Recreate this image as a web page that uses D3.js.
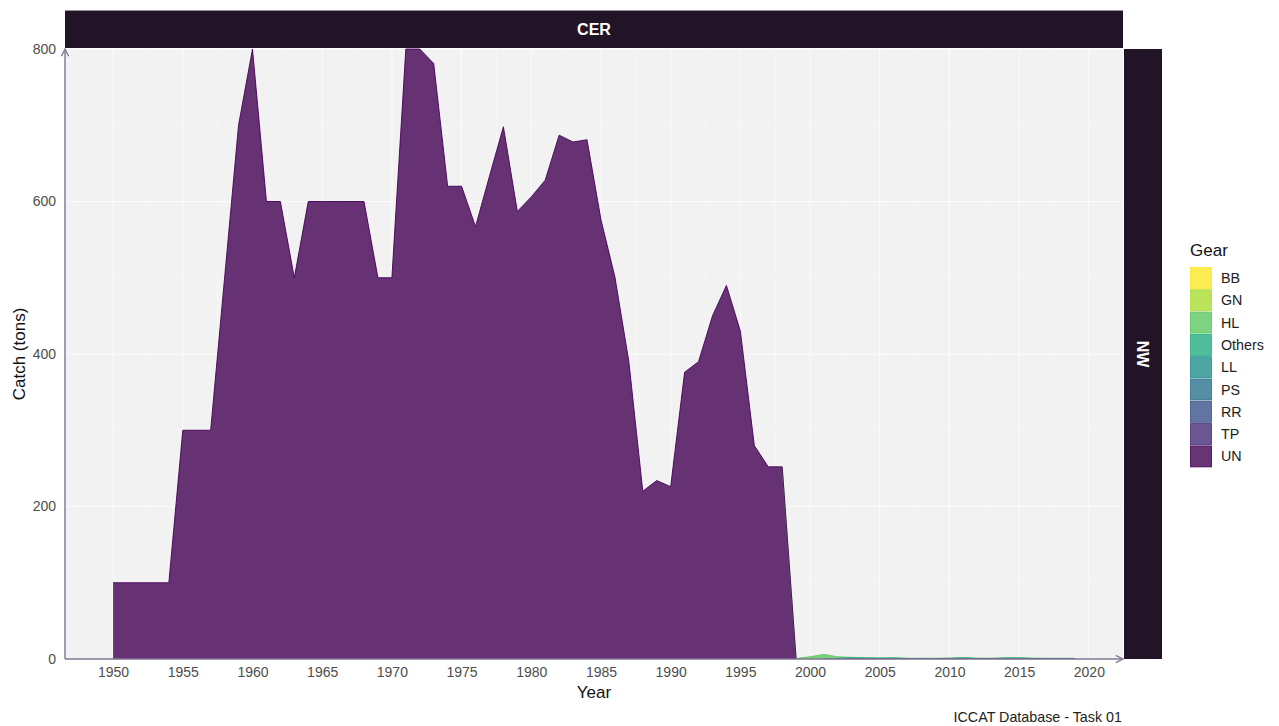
<!DOCTYPE html>
<html>
<head>
<meta charset="utf-8">
<script src="https://cdn.jsdelivr.net/npm/d3@7"></script>
<style>
  html, body { margin: 0; padding: 0; background: #ffffff; }
  svg { display: block; font-family: "Liberation Sans", Arial, sans-serif; }
</style>
</head>
<body>
<svg id="chart" width="1279" height="726"></svg>
<script>
// ---------- DATA ----------
const years = d3.range(1950, 2020);
const gears = ["BB", "GN", "HL", "Others", "LL", "PS", "RR", "TP", "UN"];
const gearColors = ["#FDE725", "#AADC32", "#5DC863", "#27AD81", "#21908C", "#2C728E", "#3B528B", "#472D7B", "#440154"];

// UN catches 1950-2019
const UN = [
  100, 100, 100, 100, 100, 300, 300, 300, 500, 700,   // 1950-1959
  800, 600, 600, 500, 600, 600, 600, 600, 600, 500,   // 1960-1969
  500, 800, 800, 781, 620, 620, 567, 633, 698, 587,   // 1970-1979
  606, 628, 687, 678, 681, 576, 501, 390, 220, 234,   // 1980-1989
  226, 376, 390, 450, 490, 430, 280, 252, 252, 0,     // 1990-1999
  0, 0, 0, 0, 0, 0, 0, 0, 0, 0,                       // 2000-2009
  0, 0, 0, 0, 0, 0, 0, 0, 0, 0                        // 2010-2019
];
const HL = [
  0,0,0,0,0,0,0,0,0,0, 0,0,0,0,0,0,0,0,0,0, 0,0,0,0,0,0,0,0,0,0,
  0,0,0,0,0,0,0,0,0,0, 0,0,0,0,0,0,0,0,0,0.5,
  3, 6, 2, 0.5, 0.3, 0.3, 0.3, 0.2, 0.2, 0.2,
  0.2, 0.3, 0.2, 0.3, 0.8, 0.5, 0.2, 0.2, 0.2, 0.2
];
const Others = [
  0,0,0,0,0,0,0,0,0,0, 0,0,0,0,0,0,0,0,0,0, 0,0,0,0,0,0,0,0,0,0,
  0,0,0,0,0,0,0,0,0,0, 0,0,0,0,0,0,0,0,0,0,
  0, 0, 0.5, 1, 0.8, 0.6, 0.8, 0.3, 0.3, 0.3,
  0.5, 1, 0.4, 0.3, 0.5, 0.8, 0.4, 0.3, 0.3, 0.3
];
const LL = [
  0,0,0,0,0,0,0,0,0,0, 0,0,0,0,0,0,0,0,0,0, 0,0,0,0,0,0,0,0,0,0,
  0,0,0,0,0,0,0,0,0,0, 0,0,0,0,0,0,0,0,0,0,
  0, 0, 0.3, 0.5, 0.3, 0.3, 0.3, 0.2, 0.2, 0.2,
  0.2, 0.4, 0.2, 0.2, 0.3, 0.3, 0.2, 0.2, 0.2, 0.2
];
const RR = [
  0,0,0,0,0,0,0,0,0,0, 0,0,0,0,0,0,0,0,0,0, 0,0,0,0,0,0,0,0,0,0,
  0,0,0,0,0,0,0,0,0,0, 0,0,0,0,0,0,0,0,0,0,
  0, 0, 0, 0.2, 0.2, 0.2, 0.2, 0.2, 0.2, 0.2,
  0.2, 0.2, 0.2, 0.2, 0.2, 0.2, 0.2, 0.2, 0.2, 0.2
];
const zeros = years.map(() => 0);
const BB = zeros, GN = zeros, PS = zeros, TP = zeros;

const yTicks = [0, 200, 400, 600, 800];
const xTicks = d3.range(1950, 2021, 5);

// ---------- LAYOUT ----------
const svg = d3.select("#chart");
const P = { left: 65, right: 1123, top: 49, bottom: 659 };

const series = { BB, GN, HL, Others, LL, PS, RR, TP, UN };
const table = years.map((y, i) => {
  const row = { year: y };
  gears.forEach(g => row[g] = series[g][i]);
  return row;
});

const x = d3.scaleLinear().domain([1946.55, 2022.45]).range([P.left, P.right]);
const y = d3.scaleLinear().domain([0, 800]).range([P.bottom, P.top]);
const color = d3.scaleOrdinal().domain(gears).range(gearColors);

// panel background
svg.append("rect").attr("x", P.left).attr("y", P.top)
  .attr("width", P.right - P.left).attr("height", P.bottom - P.top)
  .attr("fill", "#F2F2F2");

// grid
const gGrid = svg.append("g");
const minorX = d3.range(1947.5, 2022.5, 5);
const minorY = [100, 300, 500, 700];
gGrid.selectAll(".vminor").data(minorX).join("line")
  .attr("x1", d => x(d)).attr("x2", d => x(d)).attr("y1", P.top).attr("y2", P.bottom)
  .attr("stroke", "#ffffff").attr("stroke-width", 0.6).attr("opacity", 0.6);
gGrid.selectAll(".vmajor").data(xTicks).join("line")
  .attr("x1", d => x(d)).attr("x2", d => x(d)).attr("y1", P.top).attr("y2", P.bottom)
  .attr("stroke", "#ffffff").attr("stroke-width", 1).attr("opacity", 0.8);
gGrid.selectAll(".hminor").data(minorY).join("line")
  .attr("x1", P.left).attr("x2", P.right).attr("y1", d => y(d)).attr("y2", d => y(d))
  .attr("stroke", "#ffffff").attr("stroke-width", 0.6).attr("opacity", 0.6);
gGrid.selectAll(".hmajor").data(yTicks).join("line")
  .attr("x1", P.left).attr("x2", P.right).attr("y1", d => y(d)).attr("y2", d => y(d))
  .attr("stroke", "#ffffff").attr("stroke-width", 1).attr("opacity", 0.8);

// stacked areas: UN at bottom, BB on top
const stackKeys = gears.slice().reverse();
const stacked = d3.stack().keys(stackKeys)(table);

svg.append("clipPath").attr("id", "clip").append("rect")
  .attr("x", P.left).attr("y", P.top - 1).attr("width", P.right - P.left).attr("height", P.bottom - P.top + 1);

const gArea = svg.append("g").attr("clip-path", "url(#clip)");
const area = d3.area().x(d => x(d.data.year)).y0(d => y(d[0])).y1(d => y(d[1]));

stacked.forEach(s => {
  gArea.append("path").datum(s).attr("d", area)
    .attr("fill", color(s.key)).attr("fill-opacity", 0.8);
});
// outlines (upper edge only where the series is non-zero), top series first so lower ones stay visible
stacked.slice().reverse().forEach(s => {
  const vals = series[s.key];
  const upper = d3.line()
    .defined((d, i) => vals[i] > 0 || (i > 0 && vals[i - 1] > 0) || (i < vals.length - 1 && vals[i + 1] > 0))
    .x(d => x(d.data.year)).y(d => y(d[1]));
  if (d3.sum(vals) > 0) {
    gArea.append("path").datum(s).attr("d", upper)
      .attr("fill", "none").attr("stroke", color(s.key)).attr("stroke-width", 0.9);
  }
});

// axes lines with arrows
const axisCol = "#7F7590";
svg.append("defs").append("marker").attr("id", "arr")
  .attr("viewBox", "0 0 10 10").attr("refX", 9).attr("refY", 5)
  .attr("markerWidth", 9).attr("markerHeight", 9).attr("orient", "auto-start-reverse")
  .attr("markerUnits", "userSpaceOnUse")
  .append("path").attr("d", "M1,1 L9,5 L1,9").attr("fill", "none")
  .attr("stroke", axisCol).attr("stroke-width", 1.4);

svg.append("line").attr("x1", P.left).attr("x2", P.left).attr("y1", P.bottom).attr("y2", P.top)
  .attr("stroke", axisCol).attr("stroke-width", 1.4).attr("marker-end", "url(#arr)");
svg.append("line").attr("x1", P.left).attr("x2", P.right).attr("y1", P.bottom).attr("y2", P.bottom)
  .attr("stroke", axisCol).attr("stroke-width", 1.4).attr("marker-end", "url(#arr)");

// tick labels via d3 axes (no tick marks, no domain)
const xAxis = svg.append("g").attr("transform", `translate(0,${P.bottom})`)
  .call(d3.axisBottom(x).tickValues(xTicks).tickFormat(d3.format("d")).tickSize(0).tickPadding(8));
xAxis.select(".domain").remove();
xAxis.selectAll("text").attr("fill", "#4D4D4D").attr("font-size", 14)
  .attr("font-family", "Liberation Sans, Arial, sans-serif");

const yAxis = svg.append("g").attr("transform", `translate(${P.left},0)`)
  .call(d3.axisLeft(y).tickValues(yTicks).tickSize(0).tickPadding(9));
yAxis.select(".domain").remove();
yAxis.selectAll("text").attr("fill", "#4D4D4D").attr("font-size", 14)
  .attr("font-family", "Liberation Sans, Arial, sans-serif");

// axis titles
svg.append("text").attr("x", (P.left + P.right) / 2).attr("y", 698)
  .attr("text-anchor", "middle").attr("font-size", 17).attr("fill", "#111").text("Year");
svg.append("text").attr("transform", `translate(25,${(P.top + P.bottom) / 2}) rotate(-90)`)
  .attr("text-anchor", "middle").attr("font-size", 17).attr("fill", "#111").text("Catch (tons)");

// strips
const stripCol = "#211427";
svg.append("rect").attr("x", P.left).attr("y", 10).attr("width", P.right - P.left).attr("height", 38)
  .attr("fill", stripCol);
svg.append("line").attr("x1", P.left).attr("x2", P.right).attr("y1", 10.5).attr("y2", 10.5)
  .attr("stroke", "#9a90a0").attr("stroke-width", 1);
svg.append("text").attr("x", (P.left + P.right) / 2).attr("y", 35)
  .attr("text-anchor", "middle").attr("font-size", 16).attr("font-weight", "bold")
  .attr("fill", "#ffffff").text("CER");

svg.append("rect").attr("x", 1124).attr("y", P.top).attr("width", 38).attr("height", P.bottom - P.top)
  .attr("fill", stripCol);
svg.append("text").attr("transform", `translate(1137,${(P.top + P.bottom) / 2}) rotate(90)`)
  .attr("text-anchor", "middle").attr("font-size", 16).attr("font-weight", "bold")
  .attr("fill", "#ffffff").text("NW");

// legend
const lg = svg.append("g").attr("transform", "translate(1190,0)");
lg.append("text").attr("x", 0).attr("y", 256).attr("font-size", 17).attr("fill", "#111").text("Gear");
gears.forEach((g, i) => {
  const yy = 267 + i * 22.3;
  lg.append("rect").attr("x", 0.5).attr("y", yy + 0.5).attr("width", 21).attr("height", 21)
    .attr("fill", color(g)).attr("fill-opacity", 0.8)
    .attr("stroke", color(g)).attr("stroke-width", 0.8);
  lg.append("text").attr("x", 31).attr("y", yy + 16).attr("font-size", 14.3).attr("fill", "#222").text(g);
});

// caption
svg.append("text").attr("x", 1122).attr("y", 722).attr("text-anchor", "end")
  .attr("font-size", 14.3).attr("fill", "#222").text("ICCAT Database - Task 01");
</script>
</body>
</html>
